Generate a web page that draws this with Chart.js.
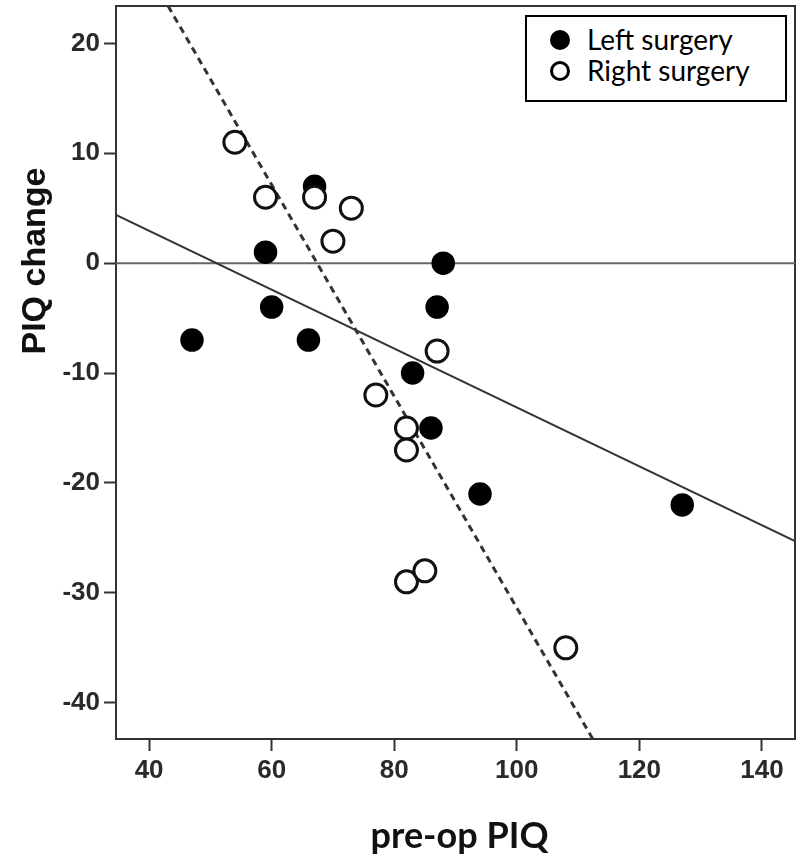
<!DOCTYPE html>
<html>
<head>
<meta charset="utf-8">
<script src="https://cdn.jsdelivr.net/npm/chart.js@4.4.0/dist/chart.umd.min.js"></script>
<style>
  html, body { margin: 0; padding: 0; background: #fff; }
  #wrap { position: relative; width: 797px; height: 866px; }
  #legend {
    position: absolute; left: 525px; top: 15px; width: 258px; height: 83px;
    border: 2px solid #000; background: #fff;
    font-family: Lato, "Open Sans", sans-serif; font-size: 28px; color: #000;
  }
  .row { position: absolute; left: 0; right: 0; height: 31px; }
  .dot { position: absolute; left: 23px; top: 5px; width: 20px; height: 20px; border-radius: 50%; box-sizing: border-box; }
  .dot.filled { background: #000; }
  .dot.open { background: #fff; border: 3.5px solid #000; }
  .lbl { position: absolute; left: 60px; top: -3px; line-height: 34px; white-space: nowrap; }
</style>
</head>
<body>
<div id="wrap">
  <canvas id="chart" width="797" height="866"></canvas>
  <div id="legend">
    <div class="row" style="top: 8px"><span class="dot filled"></span><span class="lbl">Left surgery</span></div>
    <div class="row" style="top: 39px"><span class="dot open"></span><span class="lbl">Right surgery</span></div>
  </div>
</div>
<script>
// --- DATA ---
const leftX = [47, 59, 60, 66, 67, 83, 86, 87, 88, 94, 127];
const leftY = [-7, 1, -4, -7, 7, -10, -15, -4, 0, -21, -22];

const rightX = [54, 59, 67, 70, 73, 77, 82, 82, 82, 85, 87, 108];
const rightY = [11, 6, 6, 2, 5, -12, -15, -17, -29, -28, -8, -35];

// fit lines, end points
const leftFitX = [34.6, 145.4];
const leftFitY = [4.4, -25.3];
const rightFitX = [43.1, 112.4];
const rightFitY = [23.4, -43.3];

const xTicks = [40, 60, 80, 100, 120, 140];
const yTicks = [-40, -30, -20, -10, 0, 10, 20];
const xRange = [34.6, 145.4];
const yRange = [-43.3, 23.4];

const xTitle = 'pre-op PIQ';
const yTitle = 'PIQ change';

function toPoints(xs, ys) {
    return xs.map((x, i) => ({ x: x, y: ys[i] }));
}

// --- AXIS TITLES + FRAME ---
const extras = {
    id: 'extras',
    beforeDatasetsDraw(chart) {
        const { ctx, chartArea } = chart;
        ctx.save();
        ctx.strokeStyle = '#333';
        ctx.lineWidth = 2;
        ctx.strokeRect(chartArea.left, chartArea.top, chartArea.right - chartArea.left, chartArea.bottom - chartArea.top);
        ctx.restore();
    },
    afterDraw(chart) {
        const { ctx, chartArea } = chart;
        ctx.save();
        ctx.fillStyle = '#111';
        ctx.font = 'bold 34px "Liberation Sans", Arial, sans-serif';
        ctx.textAlign = 'center';
        ctx.textBaseline = 'alphabetic';
        ctx.translate(45, 261);
        ctx.rotate(-Math.PI / 2);
        ctx.fillText(yTitle, 0, 0);
        ctx.restore();

        ctx.save();
        ctx.fillStyle = '#111';
        ctx.font = 'bold 36px Lato, sans-serif';
        ctx.textAlign = 'center';
        ctx.textBaseline = 'alphabetic';
        ctx.fillText(xTitle, (chartArea.left + chartArea.right) / 2 + 4, 848);
        ctx.restore();
    }
};

const tickFont = { family: '"Liberation Sans", Arial, sans-serif', size: 26, weight: 'bold' };

new Chart(document.getElementById('chart'), {
    type: 'scatter',
    data: {
        datasets: [
            {
                label: 'Right surgery',
                data: toPoints(rightX, rightY),
                order: 0,
                pointRadius: 11,
                pointHoverRadius: 11,
                pointBackgroundColor: '#fff',
                pointBorderColor: '#111',
                pointBorderWidth: 3
            },
            {
                label: 'Left surgery',
                data: toPoints(leftX, leftY),
                order: 1,
                pointRadius: 11,
                pointHoverRadius: 11,
                pointBackgroundColor: '#000',
                pointBorderColor: '#000',
                pointBorderWidth: 1.5
            },
            {
                label: 'zero',
                data: toPoints(xRange, [0, 0]),
                order: 5,
                showLine: true,
                pointRadius: 0,
                borderColor: '#666',
                borderWidth: 2
            },
            {
                label: 'left fit',
                data: toPoints(leftFitX, leftFitY),
                order: 4,
                showLine: true,
                pointRadius: 0,
                borderColor: '#333',
                borderWidth: 2
            },
            {
                label: 'right fit',
                data: toPoints(rightFitX, rightFitY),
                order: 3,
                showLine: true,
                pointRadius: 0,
                borderColor: '#333',
                borderWidth: 3,
                borderDash: [7, 5]
            }
        ]
    },
    options: {
        responsive: false,
        animation: false,
        devicePixelRatio: 1,
        layout: { autoPadding: false, padding: { top: 6, right: 2, left: 0, bottom: 0 } },
        plugins: {
            legend: { display: false },
            tooltip: { enabled: false }
        },
        scales: {
            x: {
                type: 'linear',
                min: xRange[0],
                max: xRange[1],
                afterBuildTicks: s => { s.ticks = xTicks.map(v => ({ value: v })); },
                afterFit: s => { s.height = 127; s.paddingLeft = 0; s.paddingRight = 0; },
                grid: { drawOnChartArea: false, tickLength: 12, tickWidth: 2, tickColor: '#333' },
                border: { color: '#333', width: 2 },
                ticks: { font: tickFont, color: '#2a2a2a', padding: 4, maxRotation: 0 }
            },
            y: {
                type: 'linear',
                min: yRange[0],
                max: yRange[1],
                afterBuildTicks: s => { s.ticks = yTicks.map(v => ({ value: v })); },
                afterFit: s => { s.width = 116; s.paddingTop = 0; s.paddingBottom = 0; },
                grid: { drawOnChartArea: false, tickLength: 12, tickWidth: 2, tickColor: '#333' },
                border: { color: '#333', width: 2 },
                ticks: { font: tickFont, color: '#2a2a2a', padding: 4 }
            }
        }
    },
    plugins: [extras]
});
</script>
</body>
</html>
